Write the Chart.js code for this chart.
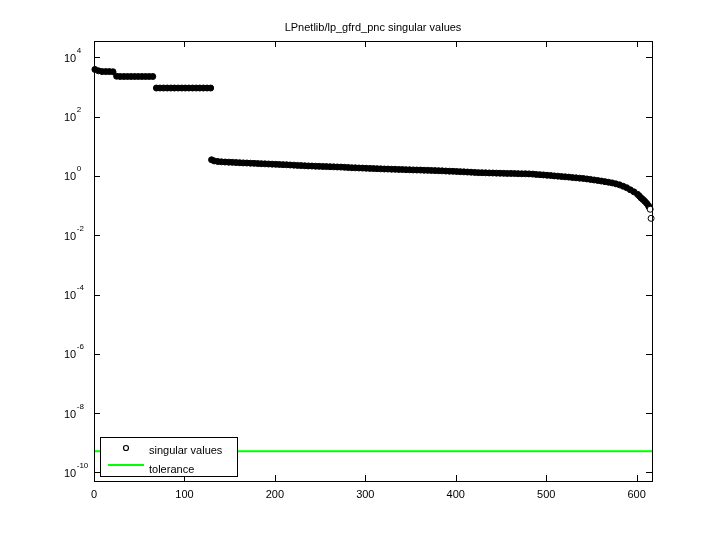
<!DOCTYPE html>
<html>
<head>
<meta charset="utf-8">
<script src="https://cdn.jsdelivr.net/npm/chart.js@4.4.0/dist/chart.umd.min.js"></script>
<style>
  body { margin: 0; background: #fff; }
  canvas { display: block; }
</style>
</head>
<body>
<canvas id="svChart" width="720" height="540"></canvas>
<script>
// data (index of singular value, value)
const chartTitle = 'LPnetlib/lp_gfrd_pnc singular values';
const svIndex = [
  1, 5, 9, 13, 17, 21, 25, 29, 33, 37, 41, 45, 49, 53, 57, 61, 65,
  69, 73, 77, 81, 85, 89, 93, 97, 101, 105, 109, 113, 117, 121, 125, 129,
  130, 133, 137, 141, 145, 149, 153, 157, 161, 165, 169, 173, 177, 181, 185, 189,
  193, 197, 201, 205, 209, 213, 217, 221, 225, 229, 233, 237, 241, 245, 249, 253,
  257, 261, 265, 269, 273, 277, 281, 285, 289, 293, 297, 301, 305, 309, 313, 317,
  321, 325, 329, 333, 337, 341, 345, 349, 353, 357, 361, 365, 369, 373, 377, 381,
  385, 389, 393, 397, 401, 405, 409, 413, 417, 421, 425, 429, 433, 437, 441, 445,
  449, 453, 457, 461, 465, 469, 473, 477, 481, 485, 489, 493, 497, 501, 505, 509,
  513, 517, 521, 525, 529, 533, 537, 541, 545, 549, 553, 557, 561, 565, 569, 573,
  577, 581, 585, 589, 593, 597, 601, 603, 605, 607, 609, 611, 613, 614, 615, 616
];
const svValue = [
  3900, 3500, 3300, 3300, 3300, 3250, 2300, 2250, 2250, 2250, 2250, 2250, 2250, 2250, 2250, 2250, 2250,
  920, 920, 920, 920, 920, 920, 920, 920, 920, 920, 920, 920, 920, 920, 920, 920,
  3.5, 3.2, 3.05, 2.98, 2.94, 2.90, 2.86, 2.82, 2.79, 2.75, 2.72, 2.68, 2.65, 2.61, 2.58, 2.55,
  2.52, 2.49, 2.46, 2.43, 2.40, 2.37, 2.33, 2.30, 2.26, 2.23, 2.20, 2.17, 2.15, 2.12, 2.10, 2.08,
  2.06, 2.04, 2.02, 2.00, 1.98, 1.95, 1.92, 1.89, 1.87, 1.85, 1.83, 1.81, 1.79, 1.77, 1.75, 1.73,
  1.71, 1.70, 1.68, 1.67, 1.65, 1.64, 1.62, 1.61, 1.59, 1.58, 1.57, 1.55, 1.54, 1.53, 1.51, 1.50,
  1.48, 1.46, 1.44, 1.43, 1.41, 1.39, 1.37, 1.35, 1.33, 1.31, 1.29, 1.28, 1.27, 1.26, 1.25, 1.24,
  1.23, 1.22, 1.21, 1.21, 1.20, 1.19, 1.18, 1.18, 1.17, 1.15, 1.12, 1.10, 1.08, 1.05, 1.03, 1.00,
  0.98, 0.95, 0.93, 0.91, 0.88, 0.86, 0.84, 0.82, 0.79, 0.76, 0.73, 0.70, 0.67, 0.64, 0.61, 0.58,
  0.54, 0.50, 0.45, 0.40, 0.34, 0.29, 0.24, 0.21, 0.18, 0.16, 0.14, 0.12, 0.10, 0.088, 0.075, 0.037
];
const tolerance = 5.2e-10;
const xRange = [0, 617];
const yRange = [Math.pow(10, -10.29), Math.pow(10, 4.55)];
const xTicks = [0, 100, 200, 300, 400, 500, 600];
const yTickExps = [4, 2, 0, -2, -4, -6, -8, -10];
const legendLabels = ['singular values', 'tolerance'];

const FONT = '"Liberation Sans", Arial, sans-serif';
const hollowCount = 2;

const svPoints = svIndex.map((x, i) => ({ x: x, y: svValue[i] }));

// axes box, inward ticks, labels, title and legend in matlab style
const matlabAxes = {
  id: 'matlabAxes',
  afterDraw(chart) {
    const ctx = chart.ctx;
    const a = chart.chartArea;
    const xs = chart.scales.x;
    const ys = chart.scales.y;
    const tick = 6;
    ctx.save();
    ctx.strokeStyle = '#000';
    ctx.lineWidth = 1;
    ctx.strokeRect(Math.round(a.left) + 0.5, Math.round(a.top) + 0.5,
      Math.round(a.right - a.left), Math.round(a.bottom - a.top));

    ctx.beginPath();
    xTicks.forEach(v => {
      const px = Math.round(xs.getPixelForValue(v)) + 0.5;
      ctx.moveTo(px, a.bottom); ctx.lineTo(px, a.bottom - tick);
      ctx.moveTo(px, a.top); ctx.lineTo(px, a.top + tick);
    });
    yTickExps.forEach(e => {
      const py = Math.round(ys.getPixelForValue(Math.pow(10, e))) + 0.5;
      ctx.moveTo(a.left, py); ctx.lineTo(a.left + tick, py);
      ctx.moveTo(a.right, py); ctx.lineTo(a.right - tick, py);
    });
    ctx.stroke();

    ctx.fillStyle = '#000';
    ctx.font = '11px ' + FONT;
    ctx.textAlign = 'center';
    ctx.textBaseline = 'alphabetic';
    xTicks.forEach(v => {
      ctx.fillText(String(v), xs.getPixelForValue(v), a.bottom + 17);
    });

    yTickExps.forEach(e => {
      const py = ys.getPixelForValue(Math.pow(10, e));
      ctx.textAlign = 'left';
      ctx.font = '11px ' + FONT;
      ctx.fillText('10', 64, py + 4.5);
      const w = ctx.measureText('10').width;
      ctx.font = '8px ' + FONT;
      ctx.fillText(String(e), 64 + w + 0.5, py - 4.5);
    });

    ctx.font = '11px ' + FONT;
    ctx.textAlign = 'center';
    ctx.fillText(chartTitle, (a.left + a.right) / 2, 31);

    // legend box
    const lx = 100, ly = 437, lw = 137, lh = 39;
    ctx.fillStyle = '#fff';
    ctx.fillRect(lx, ly, lw, lh);
    ctx.strokeRect(lx + 0.5, ly + 0.5, lw, lh);
    const sv = chart.data.datasets[0];
    const tol = chart.data.datasets[1];
    ctx.beginPath();
    ctx.arc(126, 448, 2.5, 0, Math.PI * 2);
    ctx.fillStyle = '#fff';
    ctx.fill();
    ctx.strokeStyle = sv.borderColor;
    ctx.lineWidth = 1.2;
    ctx.stroke();
    ctx.beginPath();
    ctx.moveTo(108, 465); ctx.lineTo(144, 465);
    ctx.strokeStyle = tol.borderColor;
    ctx.lineWidth = tol.borderWidth;
    ctx.stroke();
    ctx.fillStyle = '#000';
    ctx.textAlign = 'left';
    ctx.font = '11px ' + FONT;
    ctx.fillText(legendLabels[0], 149, 453.5);
    ctx.fillText(legendLabels[1], 149, 472.5);
    ctx.restore();
  }
};

const chart = new Chart(document.getElementById('svChart'), {
  type: 'scatter',
  data: {
    datasets: [{
      label: legendLabels[0],
      data: svPoints,
      showLine: false,
      borderColor: '#000',
      borderWidth: 1,
      pointRadius: 3,
      pointBackgroundColor: ctx => ctx.dataIndex >= svPoints.length - hollowCount ? '#fff' : '#000',
      pointBorderColor: '#000',
      pointBorderWidth: 1,
      clip: false
    }, {
      label: legendLabels[1],
      data: [{ x: xRange[0], y: tolerance }, { x: xRange[1], y: tolerance }],
      showLine: true,
      borderColor: '#00ff00',
      borderWidth: 2,
      pointRadius: 0
    }]
  },
  options: {
    responsive: false,
    animation: false,
    events: [],
    layout: { padding: { left: 94, right: 68, top: 41, bottom: 59 } },
    plugins: {
      legend: { display: false },
      tooltip: { enabled: false },
      title: { display: false }
    },
    scales: {
      x: { type: 'linear', display: false, min: xRange[0], max: xRange[1] },
      y: { type: 'logarithmic', display: false, min: yRange[0], max: yRange[1] }
    }
  },
  plugins: [matlabAxes]
});
</script>
</body>
</html>
